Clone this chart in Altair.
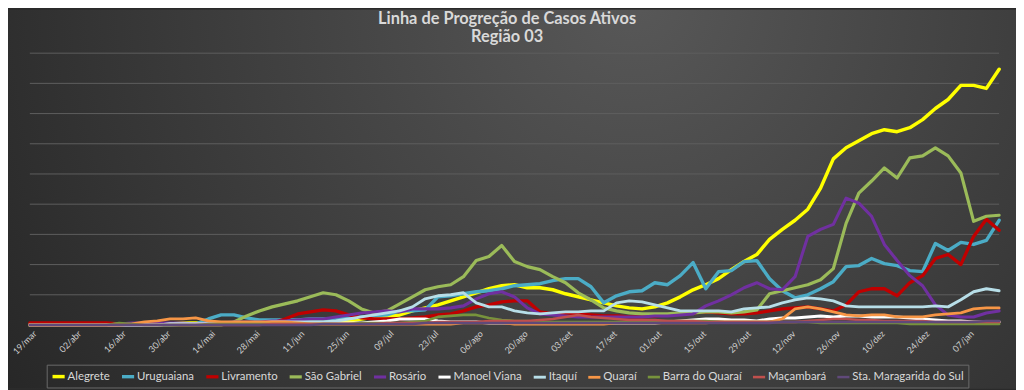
import altair as alt
import pandas as pd

# ---- data ----
DAYS = list(range(0, 305, 4))  # day index since 19/mar/2020

TICK_DAYS = [0, 14, 28, 42, 56, 70, 84, 98, 112, 126, 140, 154, 168, 182, 196, 210, 224, 238, 252, 266, 280, 294]
TICK_LABELS = ["19/mar", "02/abr", "16/abr", "30/abr", "14/mai", "28/mai", "11/jun", "25/jun", "09/jul",
               "23/jul", "06/ago", "20/ago", "03/set", "17/set", "01/out", "15/out", "29/out", "12/nov",
               "26/nov", "10/dez", "24/dez", "07/jan"]

GRID_VALUES = [30, 60, 90, 120, 150, 180, 210, 240, 270]

TITLE_LINES = ["Linha de Progreção de Casos Ativos", "Região 03"]

SERIES = ["Alegrete", "Uruguaiana", "Livramento", "São Gabriel", "Rosário", "Manoel Viana",
          "Itaquí", "Quaraí", "Barra do Quaraí", "Maçambará", "Sta. Maragarida do Sul"]
COLORS = ["#FFFF00", "#4BACC6", "#C00000", "#9BBB59", "#7030A0", "#FFFFFF",
          "#B7DEE8", "#F79646", "#77933C", "#C0504D", "#60497A"]
WIDTHS = [3.5, 2.5, 3, 2.5, 3, 2.5, 2.5, 2.5, 2.5, 2.5, 2.5]

alegrete = [0, 0, 0, 0, 0, 1, 1, 1, 1, 1,
            1, 1, 2, 2, 2, 2, 2, 2, 2, 2,
            2, 2, 3, 4, 5, 4, 6, 8, 9, 10,
            14, 17, 20, 24, 28, 32, 36, 39, 40, 37,
            37, 35, 31, 28, 25, 22, 19, 17, 16, 18,
            22, 28, 35, 40, 46, 55, 63, 70, 85, 95,
            104, 115, 136, 165, 176, 183, 190, 194, 192, 196,
            204, 215, 224, 238, 238, 235, 254]
uruguaiana = [0, 0, 0, 0, 0, 0, 0, 0, 0, 0,
              0, 0, 1, 1, 6, 10, 10, 7, 5, 5,
              5, 5, 6, 6, 6, 7, 8, 9, 10, 14,
              14, 15, 28, 29, 31, 33, 34, 36, 39, 40,
              41, 44, 46, 46, 38, 22, 29, 33, 34, 42,
              40, 49, 62, 36, 53, 54, 63, 64, 46, 34,
              27, 30, 36, 43, 58, 59, 66, 61, 59, 54,
              53, 81, 74, 82, 80, 84, 104]
livramento = [2, 2, 2, 2, 2, 2, 2, 1, 1, 1,
              1, 1, 1, 1, 1, 1, 1, 1, 1, 2,
              6, 11, 13, 15, 14, 10, 7, 6, 6, 6,
              7, 8, 10, 11, 14, 18, 20, 23, 24, 24,
              13, 11, 12, 11, 10, 9, 9, 8, 8, 9,
              10, 11, 12, 13, 12, 11, 11, 12, 14, 16,
              17, 18, 16, 14, 20, 33, 36, 36, 29, 42,
              49, 66, 70, 60, 88, 105, 94]
sao_gabriel = [0, 0, 0, 0, 0, 0, 0, 1, 1, 0,
               0, 0, 0, 0, 0, 0, 3, 9, 14, 18,
               21, 24, 28, 32, 30, 24, 16, 12, 14, 21,
               28, 35, 38, 40, 48, 64, 68, 79, 63, 58,
               55, 48, 42, 32, 25, 17, 14, 12, 11, 11,
               11, 12, 12, 13, 13, 12, 13, 15, 31, 34,
               37, 40, 45, 56, 101, 131, 143, 156, 146, 166,
               168, 176, 168, 151, 103, 108, 109]
rosario = [0, 0, 0, 0, 0, 0, 0, 1, 2, 2,
           2, 2, 2, 1, 2, 2, 3, 3, 3, 4,
           4, 5, 6, 6, 8, 10, 12, 13, 14, 13,
           16, 16, 16, 17, 19, 26, 31, 33, 28, 17,
           11, 10, 9, 8, 8, 8, 8, 8, 8, 9,
           9, 10, 11, 19, 24, 30, 37, 42, 36, 35,
           48, 88, 95, 100, 126, 121, 108, 80, 64, 49,
           39, 20, 10, 8, 8, 12, 14]
manoel_viana = [0, 0, 0, 0, 0, 0, 0, 0, 0, 0,
                0, 1, 1, 1, 1, 1, 1, 1, 1, 1,
                1, 1, 1, 2, 2, 2, 2, 3, 4, 6,
                6, 6, 4, 3, 3, 3, 2, 2, 2, 2,
                2, 2, 2, 2, 2, 2, 2, 2, 2, 2,
                3, 4, 5, 6, 6, 5, 5, 4, 6, 7,
                7, 8, 9, 8, 9, 9, 8, 8, 8, 7,
                6, 5, 4, 4, 3, 3, 3]
itaqui = [0, 0, 0, 0, 0, 0, 0, 0, 0, 0,
          0, 1, 1, 1, 1, 1, 1, 2, 2, 3,
          3, 3, 3, 3, 4, 6, 8, 10, 12, 14,
          18, 26, 29, 30, 32, 22, 18, 18, 14, 12,
          11, 12, 13, 13, 14, 14, 22, 24, 23, 20,
          17, 14, 14, 14, 14, 13, 16, 17, 18, 22,
          25, 27, 26, 24, 19, 18, 18, 18, 18, 18,
          18, 19, 18, 25, 33, 36, 34]
quarai = [0, 0, 0, 0, 0, 0, 0, 0, 1, 3,
          4, 6, 6, 7, 4, 3, 3, 3, 3, 3,
          3, 2, 1, 1, 1, 1, 1, 1, 1, 1,
          1, 1, 1, 1, 2, 2, 2, 2, 1, 1,
          1, 1, 1, 1, 1, 1, 2, 2, 2, 2,
          2, 2, 2, 2, 3, 3, 3, 3, 3, 6,
          16, 18, 16, 13, 10, 9, 10, 10, 8, 8,
          8, 10, 11, 12, 16, 17, 17]
barra_quarai = [0, 0, 0, 0, 0, 0, 0, 2, 1, 0,
                0, 0, 0, 0, 1, 1, 1, 1, 1, 1,
                1, 1, 1, 1, 1, 1, 2, 2, 2, 2,
                3, 4, 8, 9, 10, 10, 7, 5, 4, 4,
                3, 3, 3, 3, 3, 3, 3, 3, 4, 4,
                4, 4, 4, 4, 3, 3, 3, 3, 3, 3,
                3, 3, 2, 2, 2, 2, 2, 2, 2, 1,
                1, 1, 1, 1, 1, 1, 1]
macambara = [0, 0, 0, 0, 0, 0, 0, 0, 0, 0,
             0, 0, 0, 0, 0, 0, 0, 0, 0, 1,
             1, 1, 1, 1, 1, 1, 1, 1, 2, 2,
             2, 2, 3, 3, 3, 3, 4, 4, 4, 4,
             5, 6, 8, 10, 8, 7, 6, 5, 5, 5,
             4, 4, 4, 3, 3, 3, 3, 3, 3, 3,
             3, 4, 5, 6, 6, 5, 5, 4, 4, 4,
             4, 3, 3, 3, 3, 3, 3]
sta_margarida = [0, 0, 0, 0, 0, 0, 0, 0, 0, 0,
                 0, 0, 0, 0, 0, 0, 0, 0, 0, 0,
                 0, 0, 0, 1, 1, 1, 1, 1, 1, 1,
                 1, 2, 2, 2, 2, 2, 2, 2, 2, 2,
                 2, 2, 2, 2, 2, 2, 2, 2, 2, 2,
                 2, 2, 2, 2, 2, 2, 2, 2, 2, 3,
                 3, 3, 3, 3, 3, 3, 3, 3, 3, 3,
                 3, 3, 3, 3, 3, 4, 4]

VALUES = [alegrete, uruguaiana, livramento, sao_gabriel, rosario, manoel_viana,
          itaqui, quarai, barra_quarai, macambara, sta_margarida]

rows = []
for s, vals in zip(SERIES, VALUES):
    for d, v in zip(DAYS, vals):
        rows.append({"serie": s, "dia": d, "casos": v})
df = pd.DataFrame(rows)

# ---- layout ----
W, H = 977, 274
PAD = {"left": 22, "top": 44, "right": 17, "bottom": 64}

label_array = "[" + ",".join("'%s'" % t for t in TICK_LABELS) + "]"

x_scale = alt.Scale(domain=[0, 304], nice=False, zero=False)
y_scale = alt.Scale(domain=[0, 270], nice=False)

background = alt.Chart(alt.Data(values=[{}])).mark_rect(
    fill=alt.Gradient(
        gradient="radial",
        stops=[alt.GradientStop(color="#585858", offset=0),
               alt.GradientStop(color="#3a3a3a", offset=0.6),
               alt.GradientStop(color="#262626", offset=1)],
        x1=0.62, y1=0.3, r1=0.0, x2=0.62, y2=0.3, r2=0.75,
    )
).encode(
    x=alt.value(-PAD["left"]), x2=alt.value(W + PAD["right"]),
    y=alt.value(-PAD["top"]), y2=alt.value(H + PAD["bottom"]),
)

title_layers = [
    alt.Chart(alt.Data(values=[{}])).mark_text(
        font="Lato", fontSize=16.5, fontWeight="bold", color="#d9d9d9",
        align="center", baseline="middle"
    ).encode(x=alt.value(481), y=alt.value(yy), text=alt.value(t))
    for t, yy in zip(TITLE_LINES, [-34, -16])
]

grid = alt.Chart(pd.DataFrame({"g": GRID_VALUES})).mark_rule(
    color="#5e5e5e", strokeWidth=1
).encode(y=alt.Y("g:Q", scale=y_scale, axis=None))

lines = alt.Chart(df).mark_line(strokeJoin="round", strokeCap="round").encode(
    x=alt.X("dia:Q", scale=x_scale,
            axis=alt.Axis(values=TICK_DAYS, labelExpr=label_array + "[round(datum.value/14)]",
                          labelAngle=315, labelAlign="right", labelBaseline="top",
                          labelPadding=4, labelFontSize=9, labelColor="#d0d0d0",
                          labelFont="Lato", labelOffset=2, domain=False, ticks=False, grid=False,
                          title=None, labelOverlap=False, labelFlush=False, zindex=2)),
    y=alt.Y("casos:Q", scale=y_scale, axis=None),
    color=alt.Color("serie:N", scale=alt.Scale(domain=SERIES, range=COLORS), sort=SERIES,
                    legend=alt.Legend(title=None, orient="none", legendX=17, legendY=314,
                                      direction="horizontal", columns=11,
                                      symbolType="stroke", symbolStrokeWidth=3, symbolSize=150,
                                      labelFont="Lato", labelFontSize=11.5, labelColor="#d9d9d9",
                                      columnPadding=5, symbolOffset=0, labelOffset=1,
                                      strokeColor="#6a6a6a", padding=4, zindex=2)),
    strokeWidth=alt.StrokeWidth("serie:N", scale=alt.Scale(domain=SERIES, range=WIDTHS), legend=None),
    order=alt.Order("dia:Q"),
)

chart = alt.layer(background, *title_layers, grid, lines).properties(
    width=W, height=H,
    autosize=alt.AutoSizeParams(type="none"),
    padding=PAD,
).configure_view(stroke=None).configure(background="#2a2a2a")

chart.save("out.html", embed_options={"renderer": "svg", "actions": False})
